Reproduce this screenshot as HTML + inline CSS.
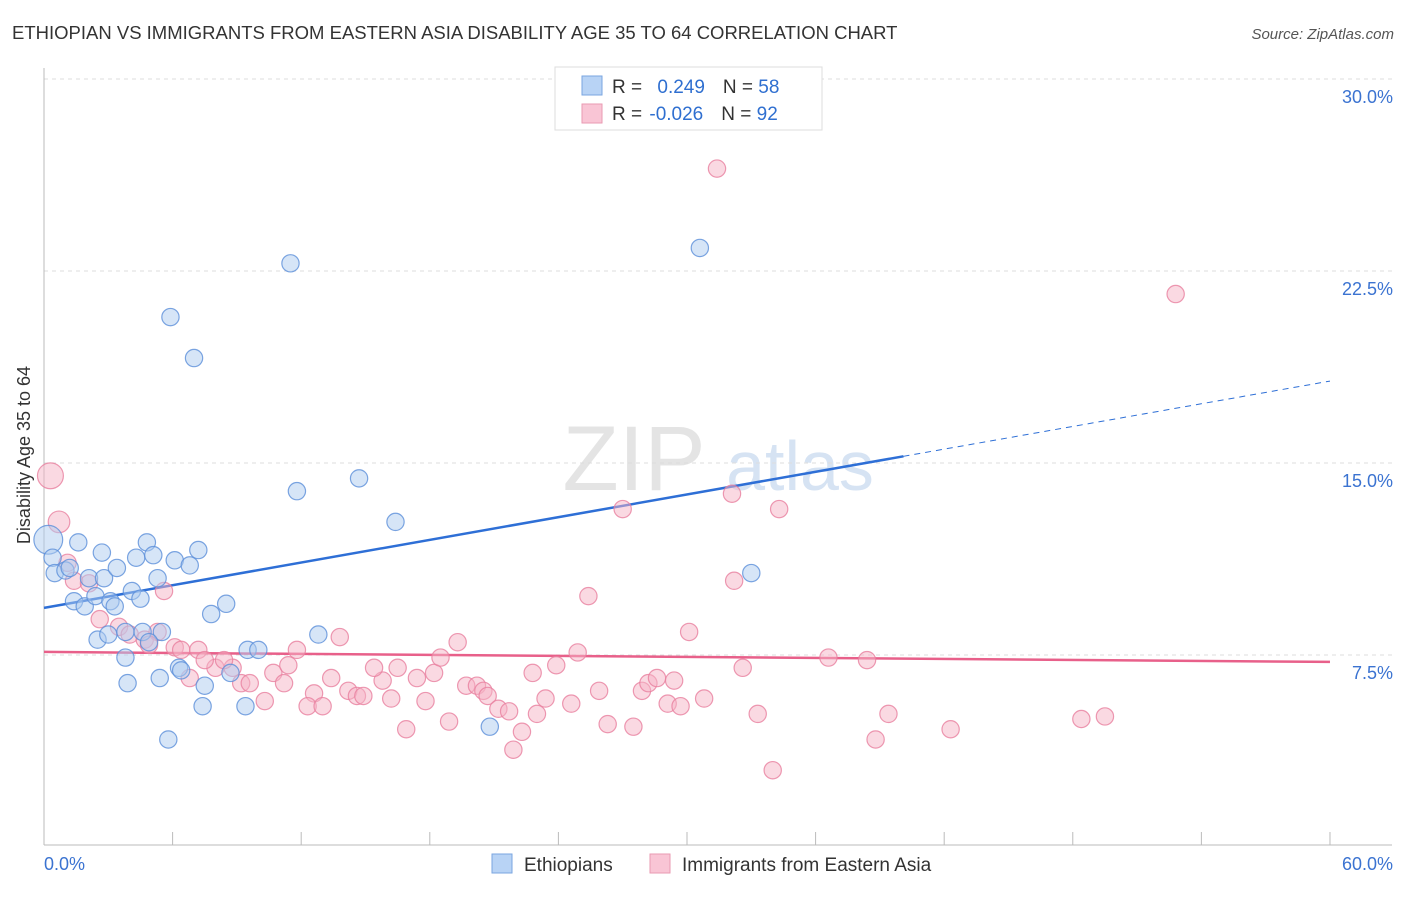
<!DOCTYPE html>
<html><head><meta charset="utf-8"><style>
body{margin:0;background:#fff;font-family:"Liberation Sans",sans-serif}
svg text{font-family:"Liberation Sans",sans-serif}
</style></head><body>
<svg id="chart" width="1406" height="892">
<text x="12" y="39" font-size="18.5" fill="#333">ETHIOPIAN VS IMMIGRANTS FROM EASTERN ASIA DISABILITY AGE 35 TO 64 CORRELATION CHART</text>
<text x="1394" y="39" font-size="15" fill="#555" font-style="italic" text-anchor="end">Source: ZipAtlas.com</text>
<g><text x="634" y="490" font-size="92" fill="#e4e4e4" font-family="Liberation Serif,serif" text-anchor="middle">ZIP</text><text x="800" y="490" font-size="70" fill="#d6e3f3" text-anchor="middle">atlas</text></g>
<g id="grid"></g><g id="axes"></g><g id="lines"></g><g id="pts"></g>
<text x="30" y="455" font-size="18" fill="#333" text-anchor="middle" transform="rotate(-90 30 455)">Disability Age 35 to 64</text>
<g>
<rect x="555" y="67" width="267" height="63" fill="#fff" stroke="#ddd"/>
<rect x="582" y="76" width="20" height="19" fill="#b8d3f5" stroke="#7aa6e0"/>
<rect x="582" y="104" width="20" height="19" fill="#f9c5d5" stroke="#e99ab2"/>
<text x="612" y="93" font-size="19" fill="#333">R = <tspan fill="#2f6fd0" dx="10">0.249</tspan><tspan dx="18" fill="#333">N = </tspan><tspan fill="#2f6fd0">58</tspan></text>
<text x="612" y="120" font-size="19" fill="#333">R = <tspan fill="#2f6fd0" dx="2">-0.026</tspan><tspan dx="18" fill="#333">N = </tspan><tspan fill="#2f6fd0">92</tspan></text>
</g>
<g>
<rect x="492" y="854" width="20" height="19" fill="#b8d3f5" stroke="#7aa6e0"/>
<text x="524" y="871" font-size="19" fill="#333">Ethiopians</text>
<rect x="650" y="854" width="20" height="19" fill="#f9c5d5" stroke="#e99ab2"/>
<text x="682" y="871" font-size="19" fill="#333">Immigrants from Eastern Asia</text>
</g>
</svg>
<script>
const yTicks=[7.5,15,22.5,30];
const yTickLabels=["7.5%","15.0%","22.5%","30.0%"];
const xTickVals=[0,6,12,18,24,30,36,42,48,54,60];
const xEndLabels=["0.0%","60.0%"];
const blueX=[11.5,30.6,5.9,7.0,11.8,14.7,16.4,33.0,0.2,0.4,0.5,1.0,1.2,1.6,2.7,2.1,2.8,3.4,4.3,4.8,5.1,6.1,6.8,7.2,5.3,1.4,1.9,2.4,3.1,3.3,4.1,4.5,7.8,8.5,2.5,3.0,3.8,4.6,5.5,4.9,12.8,3.8,6.3,6.4,9.5,10.0,8.7,3.9,5.4,7.5,7.4,9.4,5.8,20.8];
const blueY=[22.8,23.4,20.7,19.1,13.9,14.4,12.7,10.7,12.0,11.3,10.7,10.8,10.9,11.9,11.5,10.5,10.5,10.9,11.3,11.9,11.4,11.2,11.0,11.6,10.5,9.6,9.4,9.8,9.6,9.4,10.0,9.7,9.1,9.5,8.1,8.3,8.4,8.4,8.4,8.0,8.3,7.4,7.0,6.9,7.7,7.7,6.8,6.4,6.6,6.3,5.5,5.5,4.2,4.7];
const blueR=[12,12,12,12,12,12,12,12,20,12,12,12,12,12,12,12,12,12,12,12,12,12,12,12,12,12,12,12,12,12,12,12,12,12,12,12,12,12,12,12,12,12,12,12,12,12,12,12,12,12,12,12,12,12];
const pinkX=[31.4,52.8,0.3,0.7,32.1,27.0,34.3,1.1,1.4,2.1,5.6,25.4,32.2,2.6,3.5,4.0,4.7,5.3,6.1,4.9,6.4,7.2,13.8,19.3,30.1,8.8,8.0,7.5,8.4,6.8,9.2,9.6,10.7,11.2,11.4,11.8,10.3,12.6,12.3,13.0,13.4,14.2,14.6,14.9,15.8,15.4,16.2,16.5,17.4,17.8,18.2,18.5,16.9,18.9,19.7,20.2,20.5,20.7,21.2,21.7,22.3,21.9,23.0,22.8,23.4,23.9,24.6,24.9,25.9,26.3,27.5,27.9,28.2,28.6,29.4,29.1,29.7,30.8,32.6,33.3,34.0,36.6,38.4,38.8,39.4,42.3,48.4,49.5];
const pinkY=[26.5,21.6,14.5,12.7,13.8,13.2,13.2,11.1,10.4,10.3,10.0,9.8,10.4,8.9,8.6,8.3,8.1,8.4,7.8,7.9,7.7,7.7,8.2,8.0,8.4,7.0,7.0,7.3,7.3,6.6,6.4,6.4,6.8,6.4,7.1,7.7,5.7,6.0,5.5,5.5,6.6,6.1,5.9,5.9,6.5,7.0,5.8,7.0,6.6,5.7,6.8,7.4,4.6,4.9,6.3,6.3,6.1,5.9,5.4,5.3,4.5,3.8,5.2,6.8,5.8,7.1,5.6,7.6,6.1,4.8,4.7,6.1,6.4,6.6,6.5,5.6,5.5,5.8,7.0,5.2,3.0,7.4,7.3,4.2,5.2,4.6,5.0,5.1];
const pinkR=[12,12,18,15,12,12,12,12,12,12,12,12,12,12,12,12,12,12,12,12,12,12,12,12,12,12,12,12,12,12,12,12,12,12,12,12,12,12,12,12,12,12,12,12,12,12,12,12,12,12,12,12,12,12,12,12,12,12,12,12,12,12,12,12,12,12,12,12,12,12,12,12,12,12,12,12,12,12,12,12,12,12,12,12,12,12,12,12];
const blueTrend=[9.34,18.2];
const blueSolidEnd=40.1;
const pinkTrend=[7.62,7.23];
const X=v=>44+v*21.433, Y=v=>847-v*25.6;
const NS='http://www.w3.org/2000/svg';
function mk(parent,tag,attrs){const e=document.createElementNS(NS,tag);for(const k in attrs)e.setAttribute(k,attrs[k]);document.getElementById(parent).appendChild(e);return e;}
yTicks.forEach((t,i)=>{
 const g=mk('grid','line',{x1:44,x2:1392,y1:Y(t),y2:Y(t),stroke:'#ddd','stroke-dasharray':'4,4'});
 
 
 const tx=mk('grid','text',{x:1393,y:Y(t)+24,'font-size':18,fill:'#3b73d1','text-anchor':'end'});tx.textContent=yTickLabels[i];
 
 
});
const ax=mk('axes','line',{x1:44,x2:1392,y1:845,y2:845,stroke:'#bbb'});


const ay=mk('axes','line',{x1:44,x2:44,y1:68,y2:845,stroke:'#bbb'});


xTickVals.forEach(v=>{const t=mk('axes','line',{x1:X(v),x2:X(v),y1:832,y2:845,stroke:'#bbb'});
 
 });
const l0=mk('axes','text',{x:44,y:870,'font-size':18,fill:'#3b73d1'});l0.textContent=xEndLabels[0];


const l1=mk('axes','text',{x:1393,y:870,'font-size':18,fill:'#3b73d1','text-anchor':'end'});l1.textContent=xEndLabels[1];


function draw(xs,ys,rs,fill,stroke,name){xs.forEach((x,i)=>{const c=mk('pts','circle',{cx:X(x),cy:Y(ys[i]),r:rs[i]*0.72,fill:fill,'fill-opacity':0.5,stroke:stroke,'stroke-opacity':0.8,'stroke-width':1.2});
 
 });}
draw(pinkX,pinkY,pinkR,'#f5b3c6','#e8809f','immigrant-point');
draw(blueX,blueY,blueR,'#aecbf0','#5b8fd9','ethiopian-point');
const by=x=>blueTrend[0]+(blueTrend[1]-blueTrend[0])*x/60;
const b1=mk('lines','line',{x1:X(0),y1:Y(by(0)),x2:X(blueSolidEnd),y2:Y(by(blueSolidEnd)),stroke:'#2e6fd6','stroke-width':2.5});


const b2=mk('lines','line',{x1:X(blueSolidEnd),y1:Y(by(blueSolidEnd)),x2:X(60),y2:Y(by(60)),stroke:'#2e6fd6','stroke-width':1,'stroke-dasharray':'6,5'});


const p1=mk('lines','line',{x1:X(0),y1:Y(pinkTrend[0]),x2:X(60),y2:Y(pinkTrend[1]),stroke:'#e8608a','stroke-width':2.5});


</script>
</body></html>
